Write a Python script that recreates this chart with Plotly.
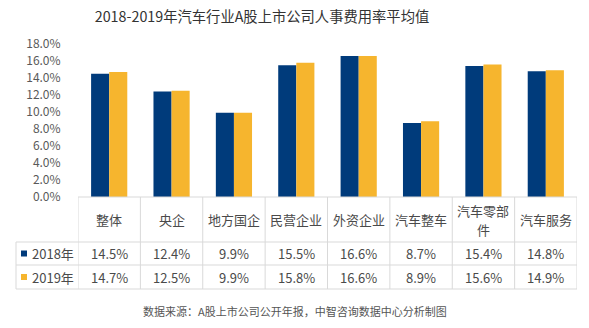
import plotly.graph_objects as go

categories = ["整体", "央企", "地方国企", "民营企业", "外资企业", "汽车整车", "汽车零部件", "汽车服务"]
header_labels = ["整体", "央企", "地方国企", "民营企业", "外资企业", "汽车整车", "汽车零部<br>件", "汽车服务"]
series_names = ["2018年", "2019年"]
v2018 = [14.5, 12.4, 9.9, 15.5, 16.6, 8.7, 15.4, 14.8]
v2019 = [14.7, 12.5, 9.9, 15.8, 16.6, 8.9, 15.6, 14.9]
colors = ["#003B7B", "#F6B52E"]

W, H = 589, 328
L, R, T, B = 78, 12, 44, 131
plot_h = H - T - B
plot_w = W - L - R
FONT = "Noto Sans CJK SC"

def py(pix):
    return (H - B - pix) / plot_h

def px(pix):
    return (pix - L) / plot_w

n = len(categories)
xs = list(range(n))

fig = go.Figure()
for name, vals, c in zip(series_names, [v2018, v2019], colors):
    fig.add_trace(go.Bar(x=xs, y=vals, name=name, marker=dict(color=c, line=dict(width=0)),
                         showlegend=False))

shapes = []
annos = []
grid = "#D9D9D9"
top, r1, r2, bot = 197, 242, 265, 289
shapes.append(dict(type="line", xref="x", yref="paper", x0=-0.5, x1=n - 0.5, y0=py(top), y1=py(top),
                   line=dict(color=grid, width=1)))
for rl in (r1, r2, bot):
    shapes.append(dict(type="line", xref="paper", yref="paper", x0=px(16), x1=1,
                       y0=py(rl), y1=py(rl), line=dict(color=grid, width=1)))
for i in range(n + 1):
    shapes.append(dict(type="line", xref="x", yref="paper", x0=i - 0.5, x1=i - 0.5, y0=py(top), y1=py(bot),
                       line=dict(color=grid, width=1)))
shapes.append(dict(type="line", xref="paper", yref="paper", x0=px(16), x1=px(16),
                   y0=py(r1), y1=py(bot), line=dict(color=grid, width=1)))

txt_color = "#4A4A4A"
hc = (top + r1) / 2
for i, lab in enumerate(header_labels):
    parts = lab.split("<br>")
    k = len(parts)
    for j, p in enumerate(parts):
        yy = hc + (j - (k - 1) / 2) * 19
        annos.append(dict(xref="x", yref="paper", x=i, y=py(yy), text=p, showarrow=False,
                          xanchor="center", yanchor="middle",
                          font=dict(size=13, color=txt_color, family=FONT)))
row_centers = [(r1 + r2) / 2, (r2 + bot) / 2]
for r, (name, vals, c) in enumerate(zip(series_names, [v2018, v2019], colors)):
    yc = py(row_centers[r])
    for i, v in enumerate(vals):
        annos.append(dict(xref="x", yref="paper", x=i, y=yc, text=f"{v:.1f}%", showarrow=False,
                          xanchor="center", yanchor="middle",
                          font=dict(size=13, color=txt_color, family=FONT)))
    annos.append(dict(xref="paper", yref="paper", x=px(30), y=yc, xanchor="left", yanchor="middle",
                      text=name, showarrow=False, font=dict(size=13, color=txt_color, family=FONT)))
    shapes.append(dict(type="rect", xref="paper", yref="paper",
                       x0=px(21), x1=px(27),
                       y0=yc - 3 / plot_h, y1=yc + 3 / plot_h,
                       fillcolor=c, line=dict(width=0)))

annos.append(dict(xref="paper", yref="paper", x=px(295), y=py(311), xanchor="center", yanchor="middle",
                  text="数据来源：A股上市公司公开年报，中智咨询数据中心分析制图", showarrow=False,
                  font=dict(size=11, color="#555555", family=FONT)))

fig.update_layout(
    width=W, height=H,
    margin=dict(l=L, r=R, t=T, b=B, pad=0),
    paper_bgcolor="white", plot_bgcolor="white",
    title=dict(text="2018-2019年汽车行业A股上市公司人事费用率平均值", x=262 / W, xanchor="center",
               y=1 - 17 / H, yanchor="middle", font=dict(size=14.3, color="#333333", family=FONT)),
    barmode="group", bargap=0.42, bargroupgap=0,
    xaxis=dict(range=[-0.5, n - 0.5], showticklabels=False, showgrid=False, zeroline=False,
               showline=False, ticks=""),
    yaxis=dict(range=[0, 18], dtick=2, tickformat=".1f", ticksuffix="%", showgrid=False,
               zeroline=False, showline=False, ticks="outside", ticklen=14, tickcolor="rgba(0,0,0,0)",
               tickfont=dict(size=12, color="#595959", family=FONT)),
    shapes=shapes, annotations=annos,
)

fig.write_html("out.html")
